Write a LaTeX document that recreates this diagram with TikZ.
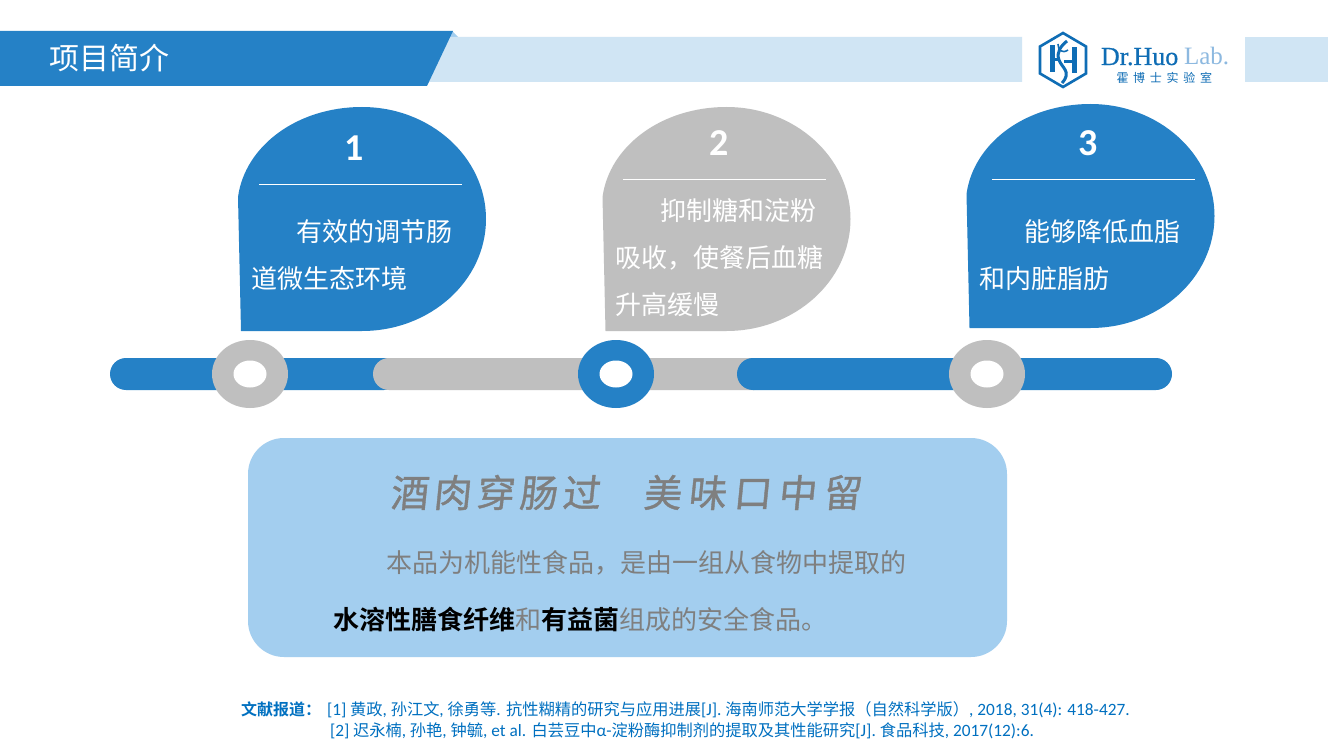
\documentclass[tikz,border=0pt]{standalone}
\usepackage{fontspec}
\setmainfont{Carlito}
\newfontfamily\cjk{Noto Sans CJK SC}
\newfontfamily\cjkb{Noto Sans CJK SC Bold}
\newfontfamily\cali[FakeSlant=0.1,FakeBold=1]{Noto Sans CJK SC}
\newfontfamily\lat{Carlito}
\newfontfamily\seriffont{Liberation Serif}
\newfontfamily\seriffat[FakeBold=0.6]{Liberation Serif}
\definecolor{mainblue}{HTML}{2581C6}
\definecolor{midgrey}{HTML}{BFBFBF}
\definecolor{boxblue}{HTML}{A3CEEF}
\definecolor{paleblue}{HTML}{D0E5F4}
\definecolor{txtgrey}{HTML}{7F7F7F}
\definecolor{refblue}{HTML}{0070C0}
\definecolor{logoblue}{HTML}{0F6DB5}
\definecolor{logolight}{HTML}{8DB9E0}
\newcommand\fsz[1]{\fontsize{#1}{#1}\selectfont}
\newcommand\blobshape{(241,331) -- (238,197) .. controls (245,146) and (297,107) .. (362,107) .. controls (430,107) and (486,157) .. (486,219) .. controls (486,281) and (430,331) .. (362,331) -- cycle}
\newcommand\rl[1]{{\lat\fsz{17.3}#1}}
\tikzset{
  txt/.style={anchor=base west,inner sep=0pt,outer sep=0pt},
  blobtxt/.style={txt,text=white,font=\cjk\fsz{26}},
  digit/.style={anchor=center,inner sep=0pt,text=white,font=\lat\bfseries\fsz{38}},
  rule/.style={draw=white,line width=0.7pt},
  barpart/.style={rounded corners=16pt},
  greytxt/.style={txt,text=txtgrey,font=\cjk\fsz{26}},
  reftxt/.style={txt,text=refblue,font=\cjk\fsz{16.25}},
}
\begin{document}
\begin{tikzpicture}[x=1pt,y=-1pt]
\useasboundingbox (0,0) rectangle (1328,746);
\fill[white] (0,0) rectangle (1328,746);
% banner
\fill[boxblue] (452,31) -- (458,37) -- (449,37) -- cycle;
\fill[paleblue] (449,37) -- (1022,37) -- (1022,82) -- (428,82) -- cycle;
\fill[paleblue] (1245,37) rectangle (1328,82);
\fill[mainblue] (0,31) -- (453,31) -- (427,86) -- (0,86) -- cycle;
\node[txt,text=white,font=\cjk\fsz{30}] (title) at (49.5,70) {项目简介};
% logo
\draw[logoblue,line width=2.6pt,line join=miter] (1063,33) -- (1086,46.5) -- (1086,73.5) -- (1063,87) -- (1040,73.5) -- (1040,46.5) -- cycle;
\fill[logoblue] (1049.5,45) rectangle (1054.5,72);
\fill[logoblue] (1071.5,47) rectangle (1077,73);
\fill[logoblue] (1054,58) rectangle (1058,61);
\fill[logoblue] (1064,60) rectangle (1072,63);
\draw[logoblue,line width=3pt] (1067,41) .. controls (1061,46) and (1056,52) .. (1059,60) .. controls (1062,68) and (1072,72) .. (1062,83);
\draw[logoblue,line width=1.6pt] (1058,44) .. controls (1058,50) and (1062,54) .. (1068,50);
\node[txt,text=logoblue,font=\seriffat\fsz{26}] (logoa) at (1101,65) {Dr.Huo};
\node[txt,text=logolight,font=\seriffont\fsz{25}] (logob) at (1184,65) {Lab.};
\node[txt,text=logoblue,font=\cjk\fsz{12}] (logoc) at (1116.5,83) {霍\kern4.7pt 博\kern4.7pt 士\kern4.7pt 实\kern4.7pt 验\kern4.7pt 室};
% blobs
\fill[mainblue] \blobshape;
\begin{scope}[shift={(364.5,0)}]
\fill[midgrey] \blobshape;
\end{scope}
\begin{scope}[shift={(728.5,-3)}]
\fill[mainblue] \blobshape;
\end{scope}
\node[digit] (d1) at (354,148) {1};
\node[digit] (d2) at (719,143) {2};
\node[digit] (d3) at (1088,143) {3};
\draw[rule] (259,184.5) -- (462,184.5);
\draw[rule] (623,179.5) -- (826,179.5);
\draw[rule] (992,179.5) -- (1195,179.5);
\node[blobtxt] (a1) at (296,242) {有效的调节肠};
\node[blobtxt] (a2) at (251,288) {道微生态环境};
\node[blobtxt] (b1) at (660,221) {抑制糖和淀粉};
\node[blobtxt] (b2) at (615,267.5) {吸收，使餐后血糖};
\node[blobtxt] (b3) at (615,314) {升高缓慢};
\node[blobtxt] (c1) at (1024,242) {能够降低血脂};
\node[blobtxt] (c2) at (979,288) {和内脏脂肪};
% timeline
\fill[mainblue,barpart] (110,358) rectangle (400,390);
\fill[midgrey,barpart] (373,358) rectangle (770,390);
\fill[mainblue,barpart] (737,358) rectangle (1172,390);
\fill[midgrey] (250,374) ellipse [x radius=38,y radius=34];
\fill[white] (250,374) ellipse [x radius=16.5,y radius=13.5];
\fill[mainblue] (616,374) ellipse [x radius=38,y radius=34];
\fill[white] (616,374) ellipse [x radius=16.5,y radius=13.5];
\fill[midgrey] (987,374) ellipse [x radius=38,y radius=34];
\fill[white] (987,374) ellipse [x radius=16.5,y radius=13.5];
% box
\fill[boxblue,rounded corners=36pt] (248,438) rectangle (1007,657);
\node[txt,text=txtgrey,font=\cali\fsz{38}] (poem1) at (390,507) {酒\kern5pt 肉\kern5pt 穿\kern5pt 肠\kern5pt 过};
\node[txt,text=txtgrey,font=\cali\fsz{38}] (poem2) at (643,507) {美\kern7pt 味\kern7pt 口\kern7pt 中\kern7pt 留};
\node[greytxt] (line1) at (386,572) {本品为机能性食品，是由一组从食物中提取的};
\node[greytxt] (line2) at (333,629) {{\cjkb\color{black}水溶性膳食纤维}和{\cjkb\color{black}有益菌}组成的安全食品。};
% references
\node[reftxt,font=\cjkb\fsz{16}] (refh) at (241,715) {文献报道：};
\node[reftxt] (ref1) at (327,715) {\rl{[1]} 黄政\rl{, }孙江文\rl{, }徐勇等\rl{. }抗性糊精的研究与应用进展\rl{[J]. }海南师范大学学报（自然科学版）\rl{, 2018, 31(4): 418-427.}};
\node[reftxt] (ref2) at (330,736) {\rl{[2]} 迟永楠\rl{, }孙艳\rl{, }钟毓\rl{, et al. }白芸豆中\rl{α-}淀粉酶抑制剂的提取及其性能研究\rl{[J]. }食品科技\rl{, 2017(12):6.}};
\end{tikzpicture}
\end{document}
